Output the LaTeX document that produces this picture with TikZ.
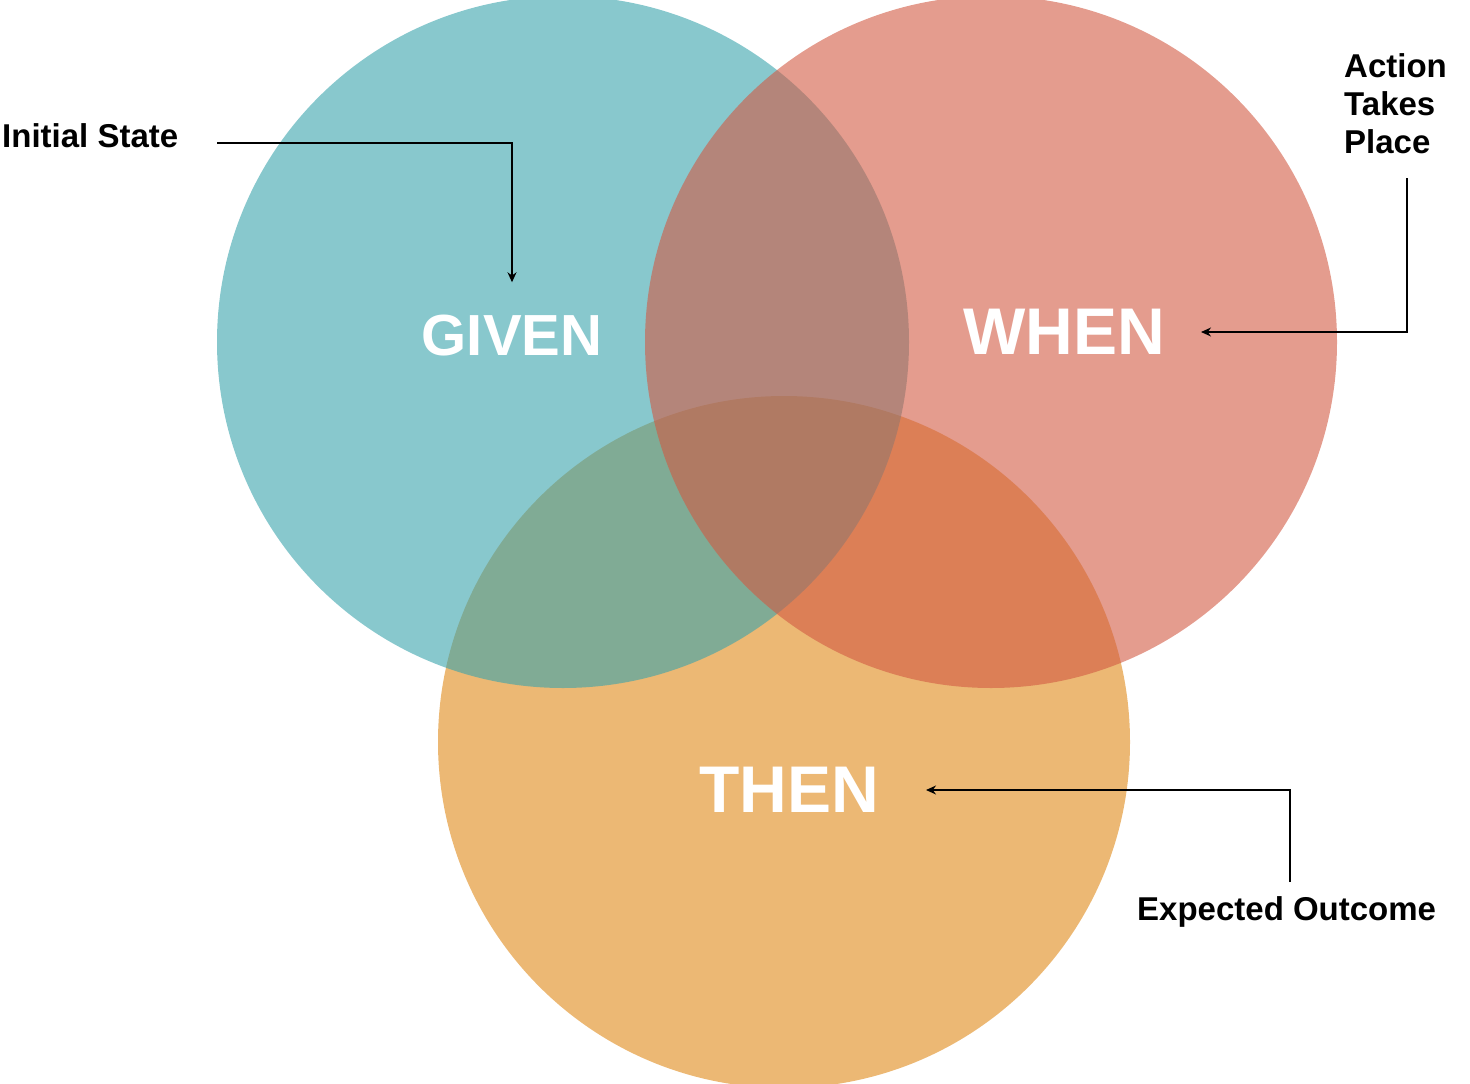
\documentclass[tikz,border=0pt]{standalone}
\usepackage{fontspec}
\setmainfont{Liberation Sans}
\usetikzlibrary{arrows.meta,calc}
\definecolor{gwtgiven}{HTML}{39A3AC}
\definecolor{gwtwhen}{HTML}{D25A43}
\definecolor{gwtthen}{HTML}{DF8917}
\definecolor{gwtink}{HTML}{000000}

\begin{document}
\begin{tikzpicture}[
  x=1pt, y=-1pt,
  font=\bfseries,
  >=Stealth,
  venn/.style={circle, draw=none, minimum size=692pt, inner sep=0pt, fill opacity=0.6},
  word/.style={text=white, inner sep=0pt, font=\bfseries\fontsize{#1}{#1}\selectfont},
  note/.style={text=gwtink, inner sep=0pt, align=left, font=\bfseries\fontsize{33}{38}\selectfont},
  arrow/.style={-{Stealth[length=10pt, width=9pt]}, line width=1.2pt, draw=gwtink}
]
\useasboundingbox (0,0) rectangle (1470,1084);
\node[venn, fill=gwtthen] (thenset) at (784,742) {};
\node[venn, fill=gwtgiven] (givenset) at (563,342) {};
\node[venn, fill=gwtwhen] (whenset) at (991,342) {};
\node[word=58] (given) at (512,336) {GIVEN};
\node[word=66] (when) at (1064,332) {WHEN};
\node[word=66] (then) at (789,790) {THEN};
\node[note, anchor=base west] (initial) at (2,147) {Initial State};
\node[note, anchor=north west] (action) at (1344,53) {Action\\Takes\\Place};
\node[note, anchor=base west] (outcome) at (1137,920) {Expected Outcome};
\coordinate (initout) at (217,143);
\coordinate (actout) at (1407,178);
\coordinate (outcout) at (1290,882);
\draw[arrow] (initout) -| ([yshift=33pt]given.north);
\draw[arrow] (actout) |- ([xshift=36pt]when.east);
\draw[arrow] (outcout) |- ([xshift=47pt]then.east);
\end{tikzpicture}
\end{document}
